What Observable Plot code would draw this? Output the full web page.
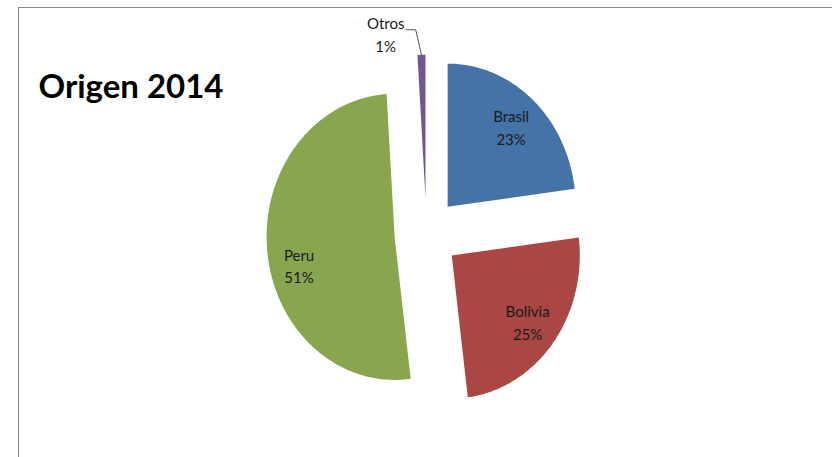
<!DOCTYPE html>
<html>
<head>
<meta charset="utf-8">
<script src="https://cdn.jsdelivr.net/npm/d3@7"></script>
<script src="https://cdn.jsdelivr.net/npm/@observablehq/plot@0.6"></script>
<style>
  html, body { margin: 0; padding: 0; background: white; }
  #wrap { position: relative; width: 832px; height: 457px; overflow: hidden; }
  #frame { position: absolute; left: 18px; top: 7px; right: -2px; bottom: -2px;
           border-top: 1.5px solid #8a8a8a; border-left: 1.5px solid #8a8a8a; pointer-events: none; }
</style>
</head>
<body>
<div id="wrap"><div id="chart"></div><div id="frame"></div></div>
<script>
// ---- data ----
const title = "Origen 2014";
const categories = ["Brasil", "Bolivia", "Peru", "Otros"];
const shares = [23, 25, 51, 1];
const colors = ["#4572A7", "#AA4643", "#89A54E", "#71588F"];

// ---- layout ----
const explode = 0.25;               // explosion distance (radius units)
const labelNudgePx = {Peru: 18};    // vertical label nudge in pixels

const pie = d3.pie().sort(null)(shares);
const polyPoints = [];
const labels = [];
const leaders = [];
pie.forEach((p, i) => {
  const name = categories[i];
  const mid = (p.startAngle + p.endAngle) / 2;
  const ax = explode * Math.sin(mid), ay = explode * Math.cos(mid);
  polyPoints.push({name, x: ax, y: ay});
  const n = Math.max(2, Math.ceil((p.endAngle - p.startAngle) / (Math.PI / 180)));
  for (let k = 0; k <= n; k++) {
    const a = p.startAngle + (p.endAngle - p.startAngle) * k / n;
    polyPoints.push({name, x: ax + Math.sin(a), y: ay + Math.cos(a)});
  }
  const text = `${name}\n${shares[i]}%`;
  if (shares[i] >= 5) {
    labels.push({text, x: ax + 0.75 * Math.sin(mid), y: ay + 0.75 * Math.cos(mid), dy: labelNudgePx[name] || 0, outside: false});
  } else {
    const tx = ax + Math.sin(mid), ty = ay + Math.cos(mid);
    const ex = tx - 0.045, ey = ay + 1.175 * Math.cos(mid);
    labels.push({text, x: ex, y: ay + 1.15 * Math.cos(mid), dy: 0, outside: true});
    leaders.push({x: tx, y: ty, g: name});
    leaders.push({x: ex, y: ey, g: name});
    leaders.push({x: ex - 0.075, y: ey, g: name});
  }
});

const chart = Plot.plot({
  width: 832,
  height: 457,
  margin: 0,
  x: {domain: [-3.328, 3.172], axis: null},
  y: {domain: [-1.566, 1.629], axis: null},
  color: {domain: categories, range: colors},
  style: {fontFamily: "Lato, 'Open Sans', sans-serif", background: "white", overflow: "visible"},
  marks: [
    Plot.line(polyPoints, {x: "x", y: "y", z: "name", fill: "name", stroke: "none", curve: "linear-closed"}),
    Plot.line(leaders, {x: "x", y: "y", z: "g", stroke: "#555", strokeWidth: 1}),
    ...labels.map(d => Plot.text([d], {x: "x", y: "y", text: "text", fontSize: 15, lineHeight: 1.5, fill: "#1a1a1a",
      textAnchor: "middle", dy: d.dy, dx: d.outside ? -30 : 0})),
    Plot.text([title], {frameAnchor: "top-left", dx: 38, dy: 97, lineAnchor: "bottom", textAnchor: "start", fontSize: 33, fontWeight: "bold", fill: "#000"})
  ]
});
document.getElementById("chart").appendChild(chart);
</script>
</body>
</html>
